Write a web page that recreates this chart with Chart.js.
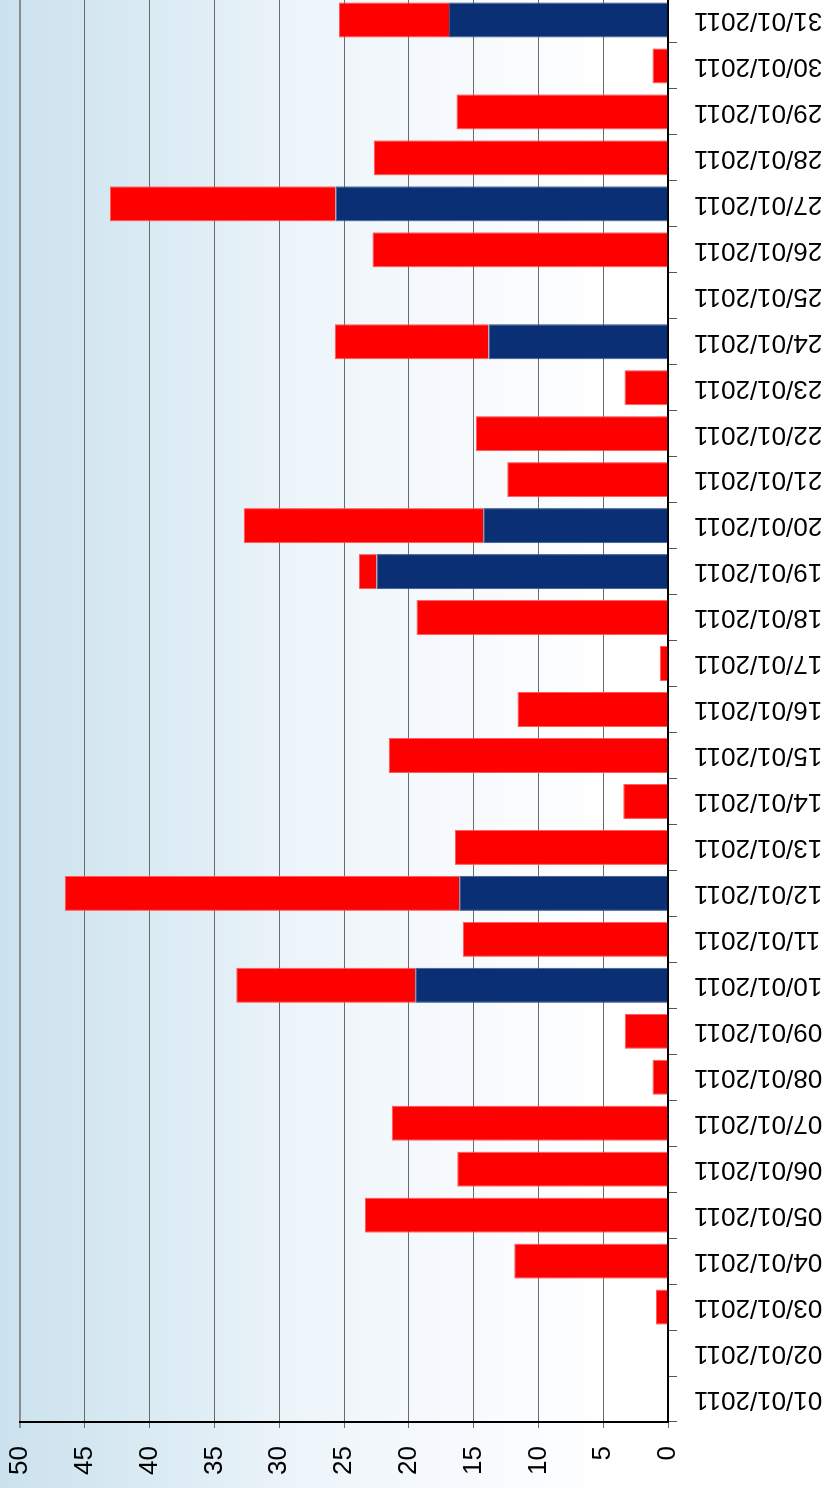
<!DOCTYPE html>
<html>
<head>
<meta charset="utf-8">
<script src="https://cdn.jsdelivr.net/npm/chart.js@4.4.1/dist/chart.umd.min.js"></script>
<style>
  html, body { margin: 0; padding: 0; width: 831px; height: 1488px; overflow: hidden; background: #ffffff; }
  #wrap { position: absolute; left: 0; top: 0; width: 1491px; height: 831px;
          transform-origin: 0 0; transform: translate(0px, 1488px) rotate(-90deg); }
  #c { display: block; }
  #fontprobe { position: absolute; left: -9999px; top: 0; font-family: "Liberation Sans"; font-size: 26px; }
</style>
</head>
<body>
<span id="fontprobe">01/01/2011 0123456789</span>
<div id="wrap"><canvas id="c" width="1491" height="831"></canvas></div>
<script>
const categories = [
  "01/01/2011","02/01/2011","03/01/2011","04/01/2011","05/01/2011","06/01/2011","07/01/2011",
  "08/01/2011","09/01/2011","10/01/2011","11/01/2011","12/01/2011","13/01/2011","14/01/2011",
  "15/01/2011","16/01/2011","17/01/2011","18/01/2011","19/01/2011","20/01/2011","21/01/2011",
  "22/01/2011","23/01/2011","24/01/2011","25/01/2011","26/01/2011","27/01/2011","28/01/2011",
  "29/01/2011","30/01/2011","31/01/2011"
];
const blueValues = [
  null, null, null, null, null, null, null,
  null, null, 19.5, null, 16.1, null, null,
  null, null, null, null, 22.5, 14.25, null,
  null, null, 13.85, null, null, 25.65, null,
  null, null, 16.9
];
const redValues = [
  null, null, 0.93, 11.87, 23.38, 16.27, 21.32,
  1.19, 3.33, 13.81, 15.83, 30.45, 16.44, 3.46,
  21.55, 11.61, 0.63, 19.41, 1.34, 18.49, 12.41,
  14.83, 3.35, 11.87, null, 22.8, 17.4, 22.7,
  16.32, 1.19, 8.48
];
const valueTicks = { min: 0, max: 50, step: 5 };

const FONT = '"Liberation Sans", Arial, Helvetica, sans-serif';

const bgPlugin = {
  id: 'bg',
  beforeDraw(chart) {
    const ctx = chart.ctx;
    const g = ctx.createLinearGradient(0, 0, 0, chart.height);
    g.addColorStop(0.00, '#cbe2ee');
    g.addColorStop(0.24, '#dfedf5');
    g.addColorStop(0.36, '#edf5fa');
    g.addColorStop(0.60, '#f9fbfe');
    g.addColorStop(0.74, '#ffffff');
    g.addColorStop(1.00, '#ffffff');
    ctx.save();
    ctx.fillStyle = g;
    ctx.fillRect(0, 0, chart.width, chart.height);
    ctx.restore();
  }
};

function build() {
  new Chart(document.getElementById('c'), {
    type: 'bar',
    data: {
      labels: categories,
      datasets: [
        { label: 'A', data: blueValues, backgroundColor: '#0b2f74', borderColor: '#3a5b8d', borderWidth: 1,
          categoryPercentage: 1, barPercentage: 0.763 },
        { label: 'B', data: redValues, backgroundColor: '#ff0000', borderColor: '#ff5a5a', borderWidth: 1,
          categoryPercentage: 1, barPercentage: 0.763 }
      ]
    },
    options: {
      responsive: false,
      devicePixelRatio: 1,
      animation: false,
      layout: { padding: { top: 20, right: 0, left: 0, bottom: 0 } },
      plugins: { legend: { display: false }, tooltip: { enabled: false }, title: { display: false } },
      scales: {
        x: {
          stacked: true,
          offset: true,
          grid: { drawOnChartArea: false, drawTicks: true, tickLength: 9, color: '#555555', offset: true },
          border: { display: true, color: '#000000', width: 2 },
          ticks: { autoSkip: false, minRotation: 90, maxRotation: 90, padding: 17, color: '#000000',
                   font: { family: FONT, size: 26 } },
          afterFit(scale) { scale.height = 163; scale.paddingLeft = 0; scale.paddingRight = 0; }
        },
        y: {
          stacked: true,
          min: valueTicks.min,
          max: valueTicks.max,
          grid: {
            drawTicks: true, tickLength: 6,
            color: (c) => (c.tick && c.tick.value === 50) ? '#8c8c8c' : '#6a6a6a',
            lineWidth: (c) => (c.tick && c.tick.value === 50) ? 2 : 1
          },
          border: { display: true, color: '#000000', width: 2 },
          ticks: { stepSize: valueTicks.step, padding: 18, color: '#000000', font: { family: FONT, size: 26 } },
          afterFit(scale) { scale.width = 66; scale.paddingTop = 0; scale.paddingBottom = 0; }
        }
      }
    },
    plugins: [bgPlugin]
  });
}

if (document.fonts && document.fonts.load) {
  document.fonts.load('26px "Liberation Sans"').then(build, build);
} else {
  build();
}
</script>
</body>
</html>
